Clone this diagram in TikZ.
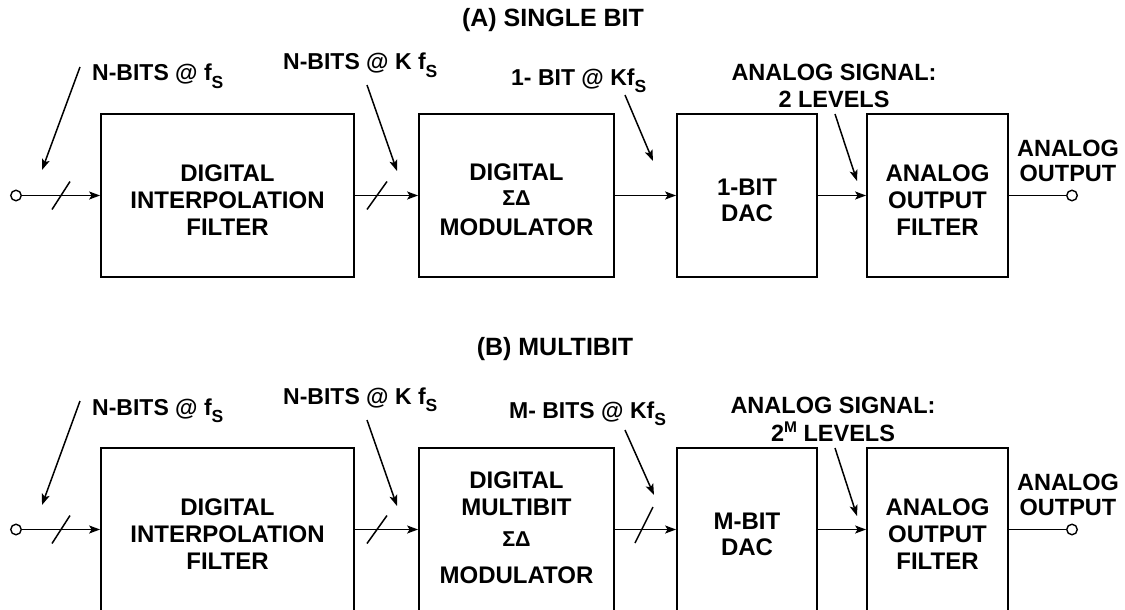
\documentclass[tikz,border=0pt]{standalone}
\usepackage{fontspec}
\setmainfont{Liberation Sans}
\usetikzlibrary{arrows.meta}
\newcommand{\subS}{\raisebox{-0.32em}{\fontsize{17.5}{17.5}\selectfont S}}
\newcommand{\supM}{\raisebox{0.36em}{\fontsize{15.5}{15.5}\selectfont M}}
\newcommand{\sdfont}{\fontsize{21.5}{21.5}\selectfont}
\begin{document}
\begin{tikzpicture}[x=1pt,y=-1pt,
  blk/.style={draw,line width=1.8pt,inner sep=0pt,minimum height=163pt},
  blkb/.style={draw,line width=1.8pt,inner sep=0pt,minimum height=166pt},
  btxt/.style={align=center,inner sep=0pt,font=\fontsize{24}{27}\selectfont\bfseries},
  lbl/.style={inner sep=0pt,anchor=base west,font=\fontsize{23}{27}\selectfont\bfseries},
  mlbl/.style={align=center,inner sep=0pt,font=\fontsize{23.5}{27}\selectfont\bfseries},
  ttl/.style={inner sep=0pt,font=\fontsize{25}{28}\selectfont\bfseries},
  port/.style={draw,circle,line width=1.4pt,inner sep=0pt,minimum size=10.5pt,fill=white},
  conn/.style={line width=1.5pt},
  sig/.style={line width=1.5pt,-{Stealth[length=11pt,width=8pt,inset=2.5pt]}},
  ptr/.style={line width=1.5pt,-{Stealth[length=11pt,width=8pt,inset=2.5pt]}}
]
\useasboundingbox (0,0) rectangle (1125,610);

% ---------------- (A) SINGLE BIT ----------------
\node[ttl] (tA) at (553,20) {(A) SINGLE BIT};

\node[blk,minimum width=253pt] (a1) at (227.5,195.5) {};
\node[blk,minimum width=195pt] (a2) at (516.5,195.5) {};
\node[blk,minimum width=140pt] (a3) at (747,195.5) {};
\node[blk,minimum width=141pt] (a4) at (937.5,195.5) {};

\node[btxt] (a1t) at (227.5,200) {DIGITAL\\INTERPOLATION\\FILTER};
\node[btxt] (a2t) at (516.5,200) {DIGITAL\\[-2pt]{\sdfont ΣΔ}\\[3pt]MODULATOR};
\node[btxt] (a3t) at (747,200) {1-BIT\\[-1pt]DAC};
\node[btxt] (a4t) at (937.5,200) {ANALOG\\OUTPUT\\FILTER};

\node[port] (ainp) at (16,195.5) {};
\node[port] (aout) at (1072,195.5) {};

\draw[sig] (ainp) -- (a1);
\draw[sig] (a1) -- (a2);
\draw[sig] (a2) -- (a3);
\draw[sig] (a3) -- (a4);
\draw[conn] (a4) -- (aout);

\coordinate (asl1) at (61,195.5);
\coordinate (asl2) at (377,195.5);
\draw[conn] ([shift={(-9,14)}]asl1) -- ([shift={(9,-14)}]asl1);
\draw[conn] ([shift={(-10,14)}]asl2) -- ([shift={(10,-14)}]asl2);

\node[lbl] (al1) at (92,81) {N-BITS @ f\subS};
\node[lbl] (al2) at (283,70) {N-BITS @ K f\subS};
\node[lbl] (al3) at (511,85) {1- BIT @ Kf\subS};
\node[mlbl] (al4) at (834,86) {ANALOG SIGNAL:\\2 LEVELS};
\node[mlbl,font=\fontsize{23.5}{25}\selectfont\bfseries] (al5) at (1068,160.5) {ANALOG\\OUTPUT};

\coordinate (ap1s) at (80,67);  \coordinate (ap1e) at (42,170);
\coordinate (ap2s) at (367,85); \coordinate (ap2e) at (397,171);
\coordinate (ap3s) at (625,95); \coordinate (ap3e) at (653,161);
\coordinate (ap4s) at (835,114); \coordinate (ap4e) at (857,181);
\draw[ptr] (ap1s) -- (ap1e);
\draw[ptr] (ap2s) -- (ap2e);
\draw[ptr] (ap3s) -- (ap3e);
\draw[ptr] (ap4s) -- (ap4e);

% ---------------- (B) MULTIBIT ----------------
\node[ttl] (tB) at (555,349) {(B) MULTIBIT};

\node[blkb,minimum width=253pt] (b1) at (227.5,531) {};
\node[blkb,minimum width=195pt] (b2) at (516.5,531) {};
\node[blkb,minimum width=140pt] (b3) at (747,531) {};
\node[blkb,minimum width=141pt] (b4) at (937.5,531) {};

\node[btxt] (b1t) at (227.5,534) {DIGITAL\\INTERPOLATION\\FILTER};
\node[btxt] (b2t) at (516.5,527.5) {DIGITAL\\MULTIBIT\\[4pt]{\sdfont ΣΔ}\\[10pt]MODULATOR};
\node[btxt] (b3t) at (747,534) {M-BIT\\[-1pt]DAC};
\node[btxt] (b4t) at (937.5,534) {ANALOG\\OUTPUT\\FILTER};

\node[port] (binp) at (16,529.5) {};
\node[port] (bout) at (1072,529.5) {};

\coordinate (b1w) at (b1.west |- binp);
\coordinate (b1e) at (b1.east |- binp);
\coordinate (b2w) at (b2.west |- binp);
\coordinate (b2e) at (b2.east |- binp);
\coordinate (b3w) at (b3.west |- binp);
\coordinate (b3e) at (b3.east |- binp);
\coordinate (b4w) at (b4.west |- binp);
\coordinate (b4e) at (b4.east |- binp);

\draw[sig] (binp) -- (b1w);
\draw[sig] (b1e) -- (b2w);
\draw[sig] (b2e) -- (b3w);
\draw[sig] (b3e) -- (b4w);
\draw[conn] (b4e) -- (bout);

\coordinate (bsl1) at (61,529.5);
\coordinate (bsl2) at (377,529.5);
\coordinate (bsl3) at (644,525);
\draw[conn] ([shift={(-9,14)}]bsl1) -- ([shift={(9,-14)}]bsl1);
\draw[conn] ([shift={(-10,14)}]bsl2) -- ([shift={(10,-14)}]bsl2);
\draw[conn] ([shift={(-9,18)}]bsl3) -- ([shift={(9,-18)}]bsl3);

\node[lbl] (bl1) at (92,415) {N-BITS @ f\subS};
\node[lbl] (bl2) at (283,404) {N-BITS @ K f\subS};
\node[lbl] (bl3) at (509,418) {M- BITS @ Kf\subS};
\node[mlbl] (bl4) at (833,419) {ANALOG SIGNAL:\\[1pt]2\supM\ LEVELS};
\node[mlbl,font=\fontsize{23.5}{25}\selectfont\bfseries] (bl5) at (1068,494.5) {ANALOG\\OUTPUT};

\coordinate (bp1s) at (80,401);  \coordinate (bp1e) at (42,505);
\coordinate (bp2s) at (367,420); \coordinate (bp2e) at (397,506);
\coordinate (bp3s) at (625,430); \coordinate (bp3e) at (654,495);
\coordinate (bp4s) at (835,448); \coordinate (bp4e) at (857,516);
\draw[ptr] (bp1s) -- (bp1e);
\draw[ptr] (bp2s) -- (bp2e);
\draw[ptr] (bp3s) -- (bp3e);
\draw[ptr] (bp4s) -- (bp4e);
\end{tikzpicture}
\end{document}
